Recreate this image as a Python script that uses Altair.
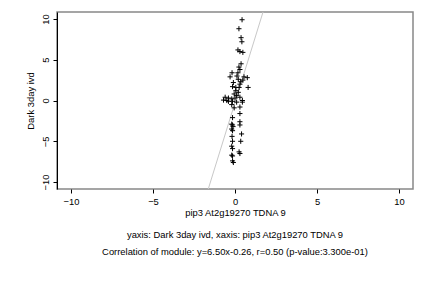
import altair as alt
import pandas as pd

xs = [0.43, 0.24, 0.37, 0.42, 0.18, 0.30, 0.48, 0.37, 0.24, 0.30, -0.18, 0.18, -0.30, 0.12,
      0.55, 0.75, 0.48, -0.10, 0.30, -0.15, 0.05, 0.25, 0.80, -0.60, -0.40, -0.20, 0.00,
      0.30, 0.45, -0.40, -0.15, 0.10, 0.45, -0.20, 0.30, -0.05, 0.30, -0.15, 0.30, -0.20,
      -0.15, 0.30, -0.12, -0.20, -0.15, 0.40, -0.18, 0.35, -0.15, -0.20, -0.15, 0.25,
      -0.20, -0.15, 0.30, -0.15, -0.10, -0.70, -0.50, 0.05, 0.20, 0.35, 0.20, -0.05, 0.10]
ys = [9.9, 8.8, 7.7, 7.2, 6.2, 6.0, 5.9, 4.5, 4.1, 3.8, 3.4, 3.4, 2.9, 3.0,
      2.9, 2.8, 2.5, 2.2, 2.0, 1.7, 1.6, 1.6, 1.6, 0.4, 0.3, 0.2, 0.3,
      0.4, 0.0, -0.1, -0.1, -0.2, -0.2, -0.5, -0.8, -0.9, -1.6, -2.1, -2.6, -2.9,
      -3.0, -3.0, -3.2, -3.5, -3.7, -4.1, -4.4, -5.0, -5.0, -5.6, -5.9, -6.3,
      -6.7, -6.8, -6.5, -7.4, -7.6, 0.05, 0.0, 1.2, 1.0, 2.3, 2.6, 0.8, 0.6]

slope = 6.50
intercept = -0.26
dom = [-10.85, 10.85]
x_ticks = [-10, -5, 0, 5, 10]
y_ticks = [-10, -5, 0, 5, 10]

xlab = "pip3 At2g19270 TDNA 9"
ylab = "Dark 3day ivd"
line1 = "yaxis: Dark 3day ivd, xaxis: pip3 At2g19270 TDNA 9"
line2 = "Correlation of module: y=6.50x-0.26, r=0.50 (p-value:3.300e-01)"

pts = pd.DataFrame({"x": xs, "y": ys})
fit = pd.DataFrame({"x": dom, "y": [slope * v + intercept for v in dom]})

FONT = "Liberation Sans"
FS = 9.4
W, H = 356, 177

xscale = alt.Scale(domain=dom, nice=False, zero=False)
yscale = alt.Scale(domain=dom, nice=False, zero=False)

xaxis = alt.Axis(values=x_ticks, title=xlab, grid=False, domain=False, tickColor="black",
                 tickSize=4, labelPadding=4, titlePadding=3, labelFont=FONT, titleFont=FONT,
                 labelFontSize=FS, titleFontSize=FS, titleFontWeight="normal", labelColor="black",
                 titleColor="black", labelFlush=False)
yaxis = alt.Axis(values=y_ticks, title=ylab, grid=False, domain=True, domainColor="black",
                 tickColor="black", tickSize=4, labelAngle=270, labelAlign="center",
                 labelBaseline="bottom", labelPadding=3, titlePadding=5, labelFont=FONT,
                 titleFont=FONT, labelFontSize=FS, titleFontSize=FS, titleFontWeight="normal",
                 labelColor="black", titleColor="black", labelFlush=False)

plus = "M-1,0L1,0M0,-1L0,1"

points = alt.Chart(pts).mark_point(shape=plus, filled=False, color="black", size=26,
                                   strokeWidth=1, opacity=1).encode(
    x=alt.X("x:Q", scale=xscale, axis=xaxis),
    y=alt.Y("y:Q", scale=yscale, axis=yaxis),
)

line = alt.Chart(fit).mark_line(color="#c8c8c8", strokeWidth=1, clip=True).encode(
    x=alt.X("x:Q", scale=xscale),
    y=alt.Y("y:Q", scale=yscale),
)

txt = pd.DataFrame({"t": [line1, line2], "yy": [222.5, 239.5]})
texts = alt.Chart(txt).mark_text(font=FONT, fontSize=FS, color="black", align="center",
                                 baseline="middle").encode(
    text="t:N",
    x=alt.value(W / 2),
    y=alt.Y("yy:Q", scale=None),
)

chart = alt.layer(line, points, texts).properties(
    width=W, height=H,
    autosize=alt.AutoSizeParams(type="none"),
    padding={"left": 57, "top": 12, "right": 19, "bottom": 99},
    background="white",
).configure_view(stroke="#888888", strokeWidth=1.5)

chart.save("out.html", embed_options={"renderer": "svg", "actions": False})
